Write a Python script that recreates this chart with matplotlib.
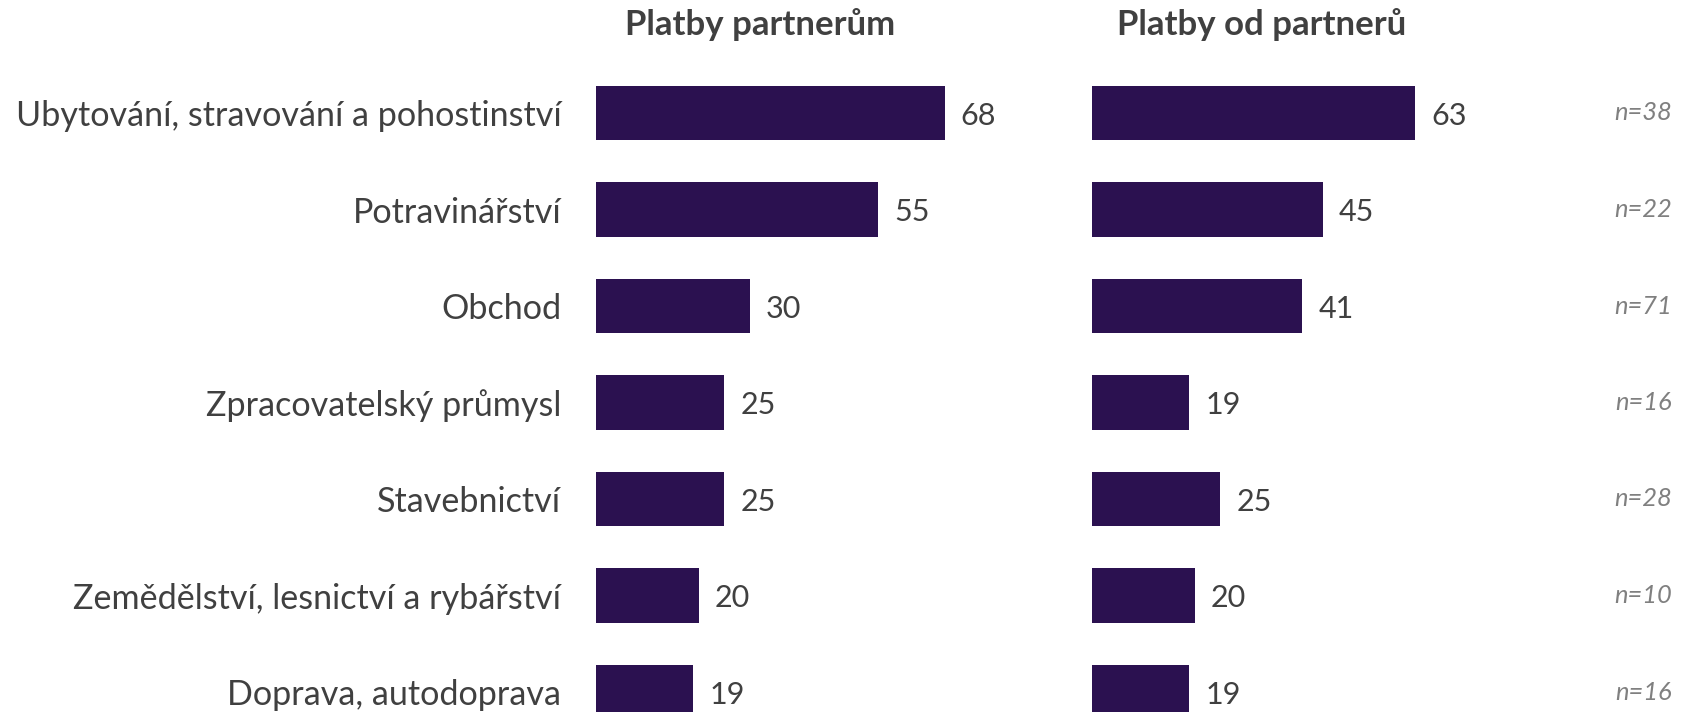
import matplotlib.pyplot as plt

categories = ["Ubytování, stravování a pohostinství", "Potravinářství", "Obchod",
              "Zpracovatelský průmysl", "Stavebnictví",
              "Zemědělství, lesnictví a rybářství", "Doprava, autodoprava"]
platby_partnerum = [68, 55, 30, 25, 25, 20, 19]
platby_od_partneru = [63, 45, 41, 19, 25, 20, 19]
n_labels = ["n=38", "n=22", "n=71", "n=16", "n=28", "n=10", "n=16"]
titles = ["Platby partnerům", "Platby od partnerů"]

bar_color = "#2B1150"
text_color = "#404040"
plt.rcParams['font.family'] = ['Lato', 'DejaVu Sans']

W, H = 1685, 712
fig = plt.figure(figsize=(W / 100, H / 100), dpi=100)

px_per_unit = 5.13
xmax = 80
ylim = (6.207, -1.171)
rows = list(range(len(categories)))

ax1 = fig.add_axes([596 / W, 0, xmax * px_per_unit / W, 1])
ax2 = fig.add_axes([1092 / W, 0, xmax * px_per_unit / W, 1])

for ax, vals, title, tx in [(ax1, platby_partnerum, titles[0], 32),
                            (ax2, platby_od_partneru, titles[1], 33)]:
    ax.barh(rows, vals, height=0.56, color=bar_color)
    ax.set_xlim(0, xmax)
    ax.set_ylim(*ylim)
    for sp in ax.spines.values():
        sp.set_visible(False)
    ax.set_xticks([])
    ax.tick_params(axis='y', length=0)
    for i, v in enumerate(vals):
        ax.annotate(str(v), (v, i), xytext=(11.5, -2), textcoords='offset points',
                    va='center', ha='left', fontsize=22, color=text_color)
    ax.text(tx, -0.92, title, ha='center', va='center', fontsize=25,
            fontweight='bold', color=text_color)

# category names as y tick labels on the left panel
ax1.set_yticks(rows)
ax1.set_yticklabels(categories, fontsize=24.6, color=text_color)
ax1.tick_params(axis='y', pad=25)
ax2.set_yticks([])

for i, lab in enumerate(n_labels):
    ax2.text(1672 / W, 1 - (113 + 96.5 * i) / H, lab, transform=fig.transFigure,
             ha='right', va='center', fontsize=18.4, style='italic', color="#808080")

fig.savefig("out.png", dpi=100)
